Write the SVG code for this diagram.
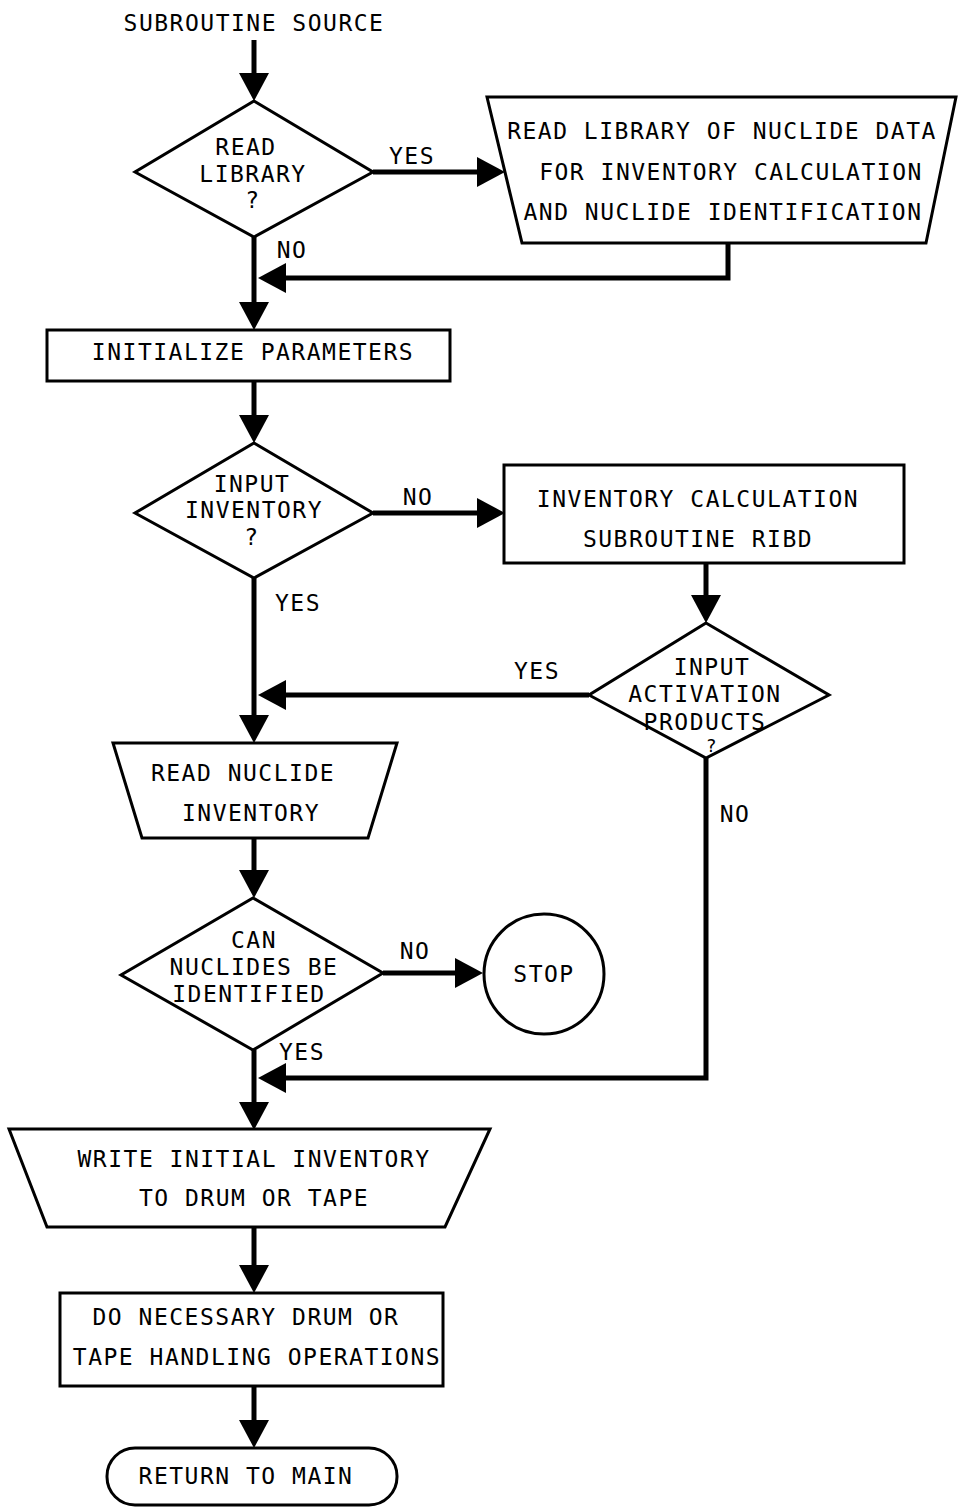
<svg xmlns="http://www.w3.org/2000/svg" width="959" height="1507" viewBox="0 0 959 1507">
  <defs>
    <style>
      .shape { fill: #fff; stroke: #000; stroke-width: 3; stroke-linejoin: miter; }
      .flow { fill: none; stroke: #000; stroke-width: 5; stroke-linejoin: miter; }
      text { font-family: "DejaVu Sans Mono", "Liberation Mono", monospace; font-size: 23px; letter-spacing: 1.5px; fill: #000; text-anchor: middle; }
    </style>
    <marker id="head" markerUnits="userSpaceOnUse" markerWidth="30" markerHeight="30" viewBox="0 0 28 30" refX="22" refY="15" orient="auto">
      <path d="M0,0 L28,15 L0,30 Z" fill="#000"/>
    </marker>
  </defs>
  <rect width="959" height="1507" fill="#fff"/>

  <!-- connectors -->
  <g id="connectors">
    <path class="flow" d="M254,40 V95" marker-end="url(#head)"/>
    <path class="flow" d="M373,172 H499" marker-end="url(#head)"/>
    <path class="flow" d="M254,237 V324" marker-end="url(#head)"/>
    <path class="flow" d="M728,243 V278 H264" marker-end="url(#head)"/>
    <path class="flow" d="M254,381 V437" marker-end="url(#head)"/>
    <path class="flow" d="M373,513 H499" marker-end="url(#head)"/>
    <path class="flow" d="M254,578 V737" marker-end="url(#head)"/>
    <path class="flow" d="M706,563 V617" marker-end="url(#head)"/>
    <path class="flow" d="M589,695 H264" marker-end="url(#head)"/>
    <path class="flow" d="M706,758 V1078 H264" marker-end="url(#head)"/>
    <path class="flow" d="M254,838 V892" marker-end="url(#head)"/>
    <path class="flow" d="M383,973 H477" marker-end="url(#head)"/>
    <path class="flow" d="M254,1050 V1124" marker-end="url(#head)"/>
    <path class="flow" d="M254,1227 V1287" marker-end="url(#head)"/>
    <path class="flow" d="M254,1386 V1442" marker-end="url(#head)"/>
    <text x="412" y="164">YES</text>
    <text x="292" y="258">NO</text>
    <text x="418" y="505">NO</text>
    <text x="298" y="611">YES</text>
    <text x="537" y="679">YES</text>
    <text x="735" y="822">NO</text>
    <text x="415" y="959">NO</text>
    <text x="302" y="1060">YES</text>
  </g>

  <g id="start">
    <text x="254" y="31">SUBROUTINE SOURCE</text>
  </g>

  <g id="read-library-q">
    <polygon class="shape" points="254,101 373,172 254,237 135,172"/>
    <text x="246" y="155">READ</text>
    <text x="253" y="182">LIBRARY</text>
    <text x="253" y="208">?</text>
  </g>

  <g id="read-library">
    <polygon class="shape" points="487,97 956,97 926,243 522,243"/>
    <text x="722" y="139">READ LIBRARY OF NUCLIDE DATA</text>
    <text x="731" y="180">FOR INVENTORY CALCULATION</text>
    <text x="723" y="220">AND NUCLIDE IDENTIFICATION</text>
  </g>

  <g id="initialize">
    <rect class="shape" x="47" y="330" width="403" height="51"/>
    <text x="253" y="360">INITIALIZE PARAMETERS</text>
  </g>

  <g id="input-inventory-q">
    <polygon class="shape" points="254,443 373,513 254,578 135,513"/>
    <text x="252" y="492">INPUT</text>
    <text x="254" y="518">INVENTORY</text>
    <text x="252" y="545">?</text>
  </g>

  <g id="ribd">
    <rect class="shape" x="504" y="465" width="400" height="98"/>
    <text x="698" y="507">INVENTORY CALCULATION</text>
    <text x="698" y="547">SUBROUTINE RIBD</text>
  </g>

  <g id="activation-q">
    <polygon class="shape" points="706,623 829,695 706,758 589,695"/>
    <text x="712" y="675">INPUT</text>
    <text x="705" y="702">ACTIVATION</text>
    <text x="705" y="730">PRODUCTS</text>
    <text x="712" y="752" style="font-size:18px">?</text>
  </g>

  <g id="read-inventory">
    <polygon class="shape" points="113,743 397,743 368,838 142,838"/>
    <text x="243" y="781">READ NUCLIDE</text>
    <text x="251" y="821">INVENTORY</text>
  </g>

  <g id="identify-q">
    <polygon class="shape" points="253,898 383,973 253,1050 121,975"/>
    <text x="254" y="948">CAN</text>
    <text x="254" y="975">NUCLIDES BE</text>
    <text x="249" y="1002">IDENTIFIED</text>
  </g>

  <g id="stop">
    <circle class="shape" cx="544" cy="974" r="60"/>
    <text x="544" y="982">STOP</text>
  </g>

  <g id="write-inventory">
    <polygon class="shape" points="9,1129 490,1129 445,1227 47,1227"/>
    <text x="254" y="1167">WRITE INITIAL INVENTORY</text>
    <text x="254" y="1206">TO DRUM OR TAPE</text>
  </g>

  <g id="tape-ops">
    <rect class="shape" x="60" y="1293" width="383" height="93"/>
    <text x="246" y="1325">DO NECESSARY DRUM OR</text>
    <text x="257" y="1365">TAPE HANDLING OPERATIONS</text>
  </g>

  <g id="return">
    <rect class="shape" x="107" y="1448" width="290" height="57" rx="28" ry="28"/>
    <text x="246" y="1484">RETURN TO MAIN</text>
  </g>
</svg>
